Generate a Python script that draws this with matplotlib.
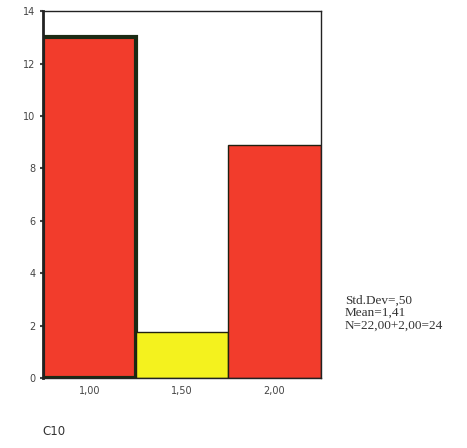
import matplotlib.pyplot as plt

# histogram of C10
centers = [1.0, 1.5, 2.0]
counts = [13, 1.75, 8.9]
xlabels = ['1,00', '1,50', '2,00']
yticks = [0, 2, 4, 6, 8, 10, 12, 14]
colors = ['#f23c2c', '#f4f21e', '#f23c2c']
stats = ['Std.Dev=,50', 'Mean=1,41', 'N=22,00+2,00=24']


def main():
    fig = plt.figure(figsize=(4.67, 4.48), dpi=100)
    ax = fig.add_axes([0.092, 0.156, 0.595, 0.819])

    bars = ax.bar(centers, counts, width=0.5, color=colors, edgecolor='#202010', linewidth=1.0)
    bars[0].set_linewidth(3.0)
    bars[0].set_edgecolor('#1c2a14')

    ax.set_xlim(0.75, 2.25)
    ax.set_ylim(0, 14)
    ax.set_xticks(centers)
    ax.set_xticklabels(xlabels)
    ax.set_yticks(yticks)
    ax.tick_params(axis='both', labelsize=7, colors='#444444', length=2, width=1.5)
    ax.tick_params(axis='x', length=0, pad=6)
    for s in ax.spines.values():
        s.set_linewidth(1.0)
        s.set_color('#222222')
    ax.spines['left'].set_linewidth(2.0)

    fig.text(0.738, 0.301, '\n'.join(stats), fontsize=9.5, family='Liberation Serif',
             color='#333333', va='center', ha='left', linespacing=1.1)
    fig.text(0.09, 0.028, 'C10', fontsize=8.5, color='#333333')

    fig.savefig('out.png', dpi=100)


if __name__ == "__main__":
    main()
